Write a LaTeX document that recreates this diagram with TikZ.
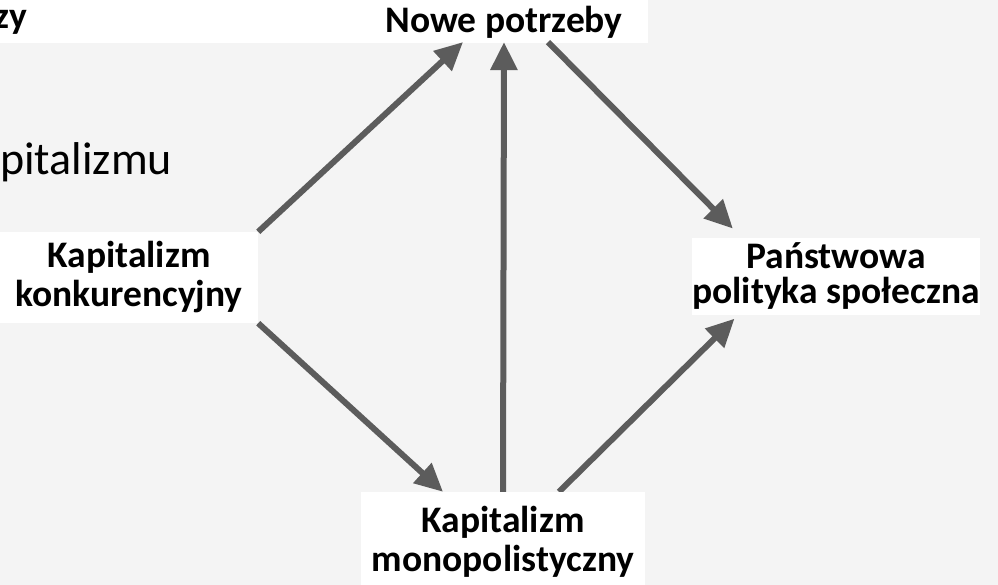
\documentclass[tikz,border=0pt]{standalone}
\usepackage{fontspec}
\setmainfont{Carlito}
\usetikzlibrary{arrows.meta}

\definecolor{scan}{gray}{0.955}
\definecolor{arrowgray}{gray}{0.36}

\pgfdeclarelayer{bg}
\pgfsetlayers{bg,main}

\begin{document}
\begin{tikzpicture}
  [x=1pt,y=-1pt,
   lbl/.style={fill=white,align=center,inner sep=0pt,
               font=\fontsize{37.5}{39}\selectfont\bfseries},
   arr/.style={draw=arrowgray,line width=6pt,
               -{Triangle[length=28pt,width=26pt]}}]

  \useasboundingbox (0,0) rectangle (998,585);

  % cut text of the slide
  \node[anchor=base east,inner sep=0pt,font=\fontsize{37.5}{39}\selectfont\bfseries] (zy) at (27,29) {zy};
  \node[anchor=base west,inner sep=0pt,font=\fontsize{46}{50}\selectfont] (kapit) at (0,175) {pitalizmu};

  \node[lbl,fill=none,inner sep=3pt,anchor=base] (nowe) at (504,33) {Nowe potrzeby};

  \node[lbl,minimum width=258pt,minimum height=91pt] (konk) at (129,277.5)
    {Kapitalizm\\konkurencyjny};

  \node[lbl,minimum width=288pt,minimum height=77pt,
        font=\fontsize{37.5}{35}\selectfont\bfseries] (pans) at (836,276.5)
    {Państwowa\\polityka społeczna};

  \node[lbl,minimum width=284pt,minimum height=100pt] (mono) at (503,542)
    {Kapitalizm\\monopolistyczny};

  \begin{pgfonlayer}{bg}
    \fill[scan] (0,0) rectangle (998,585);
    \fill[white] (0,0) rectangle (648,43);

    \draw[arr] (konk.north east) -- ([xshift=-41pt]nowe.south);
    \draw[arr] (mono.north) -- (nowe.south);
    \draw[arr,shorten >=13pt] ([xshift=44pt]nowe.south) -- ([xshift=-94pt]pans.north);
    \draw[arr] (konk.south east) -- ([xshift=-60pt]mono.north);
    \draw[arr,shorten >=5pt] ([xshift=56pt]mono.north) -- ([xshift=-98pt]pans.south);
  \end{pgfonlayer}
\end{tikzpicture}
\end{document}
